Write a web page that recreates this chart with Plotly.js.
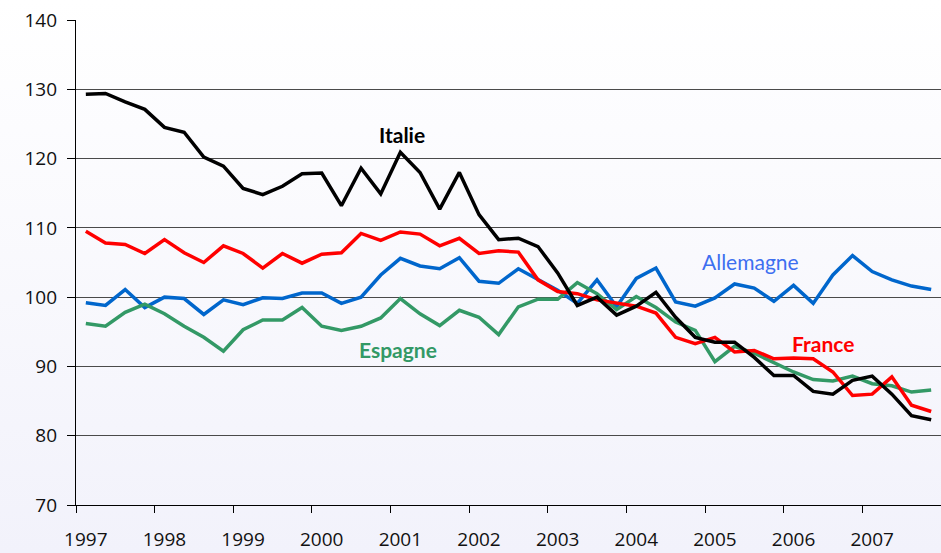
<!DOCTYPE html>
<html>
<head>
<meta charset="utf-8">
<script src="https://cdn.plot.ly/plotly-3.0.1.min.js"></script>
<style>html,body{margin:0;padding:0;background:#fff;}#chart{width:941px;height:553px;}</style>
</head>
<body>
<div id="chart"></div>
<script>
// Quarterly data 1997Q1 .. 2007Q4 (44 quarters)
const years = ['1997','1998','1999','2000','2001','2002','2003','2004','2005','2006','2007'];
const italie = [129.3,129.4,128.2,127.1,124.5,123.8,120.2,118.9,115.7,114.8,116.0,117.8,
  117.9,113.2,118.6,114.9,120.9,118.0,112.7,118.0,111.9,108.3,108.5,107.3,
  103.5,98.8,100.0,97.4,98.7,100.7,97.1,94.2,93.5,93.5,91.3,88.7,
  88.7,86.4,86.0,88.0,88.6,86.0,82.9,82.3];
const france = [109.5,107.8,107.6,106.3,108.3,106.4,105.0,107.4,106.3,104.2,106.3,104.9,
  106.2,106.4,109.2,108.2,109.4,109.1,107.4,108.5,106.3,106.7,106.5,102.5,
  100.8,100.5,99.6,99.2,98.7,97.7,94.2,93.3,94.2,92.1,92.3,91.1,
  91.2,91.1,89.2,85.8,86.0,88.5,84.4,83.5];
const allemagne = [99.2,98.8,101.1,98.5,100.0,99.8,97.5,99.6,98.9,99.9,99.8,100.6,
  100.6,99.1,100.0,103.2,105.6,104.5,104.1,105.7,102.3,102.0,104.1,102.5,
  101.0,99.1,102.5,98.6,102.7,104.2,99.3,98.7,99.9,101.9,101.3,99.4,
  101.7,99.1,103.2,106.0,103.7,102.5,101.6,101.1];
const espagne = [96.2,95.8,97.8,99.0,97.6,95.8,94.2,92.2,95.3,96.7,96.7,98.5,
  95.8,95.2,95.8,97.0,99.8,97.6,95.9,98.1,97.1,94.6,98.6,99.7,
  99.7,102.1,100.5,98.2,100.1,98.5,96.4,95.2,90.7,92.9,91.9,90.5,
  89.2,88.1,87.9,88.6,87.5,87.2,86.3,86.6];
const seriesNames = ['Italie','France','Allemagne','Espagne'];
const colors = {Italie:'#000000', France:'#ff0000', Allemagne:'#0066cc', Espagne:'#339966'};
const labelColors = {Italie:'#000000', France:'#ff0000', Allemagne:'#3d6ff0', Espagne:'#339966'};

const idx = italie.map((_, i) => i);
const labelTickVals = years.map((_, k) => k * 4);
const boundaryTickVals = years.map((_, k) => k * 4 - 0.5);

const dataMap = {Italie: italie, France: france, Allemagne: allemagne, Espagne: espagne};
const order = ['Allemagne','Espagne','France','Italie'];
const traces = order.map(n => ({
  x: idx, y: dataMap[n], type: 'scatter', mode: 'lines', name: n,
  line: {color: colors[n], width: 3.5}, xaxis: 'x', yaxis: 'y', hoverinfo: 'skip'
}));

const tickFont = {family: 'Open Sans, DejaVu Sans, sans-serif', size: 19, color: '#111'};
const labFont = (n, w) => ({family: 'Lato, Open Sans, sans-serif', size: 21, color: labelColors[n], weight: w});

const grad = 'data:image/svg+xml;utf8,' + encodeURIComponent(
  '<svg xmlns="http://www.w3.org/2000/svg" width="10" height="100" preserveAspectRatio="none">' +
  '<defs><linearGradient id="g" x1="0" y1="0" x2="0" y2="1">' +
  '<stop offset="0" stop-color="#ffffff"/><stop offset="1" stop-color="#f2f2fb"/></linearGradient></defs>' +
  '<rect width="10" height="100" fill="url(#g)"/></svg>');

const layout = {
  width: 941, height: 553,
  margin: {l: 76, r: 0, t: 20, b: 48},
  paper_bgcolor: '#ffffff', plot_bgcolor: 'rgba(0,0,0,0)',
  showlegend: false,
  images: [{source: grad, xref: 'paper', yref: 'paper', x: -76/865, y: 1 + 20/485,
    sizex: 941/865, sizey: 553/485, sizing: 'stretch', xanchor: 'left', yanchor: 'top', layer: 'below'}],
  xaxis: {
    range: [-0.5, 43.5], tickvals: boundaryTickVals, ticktext: boundaryTickVals.map(() => ''),
    ticks: 'outside', ticklen: 7, tickcolor: '#000', tickwidth: 1,
    showgrid: false, zeroline: false, showline: true, linecolor: '#000', linewidth: 1.2,
    fixedrange: true
  },
  xaxis2: {
    overlaying: 'x', anchor: 'y', side: 'bottom', matches: 'x',
    range: [-0.5, 43.5], tickvals: labelTickVals, ticktext: years,
    ticks: 'outside', ticklen: 17, tickcolor: 'rgba(0,0,0,0)',
    showgrid: false, zeroline: false, showline: false, tickfont: tickFont
  },
  yaxis: {
    range: [70, 140], tickvals: [70,80,90,100,110,120,130,140],
    ticks: 'outside', ticklen: 8, tickcolor: '#000', tickwidth: 1,
    showgrid: true, gridcolor: '#4a4a4a', gridwidth: 1,
    zeroline: false, showline: true, linecolor: '#000', linewidth: 1.2,
    tickfont: tickFont, ticklabelstandoff: 6
  },
  annotations: [
    {text: 'Italie', x: 16.1, y: 123.5, xref: 'x', yref: 'y', showarrow: false, font: labFont('Italie', 700)},
    {text: 'Allemagne', x: 33.8, y: 105.2, xref: 'x', yref: 'y', showarrow: false, font: labFont('Allemagne', 400)},
    {text: 'France', x: 37.5, y: 93.25, xref: 'x', yref: 'y', showarrow: false, font: labFont('France', 700)},
    {text: 'Espagne', x: 15.9, y: 92.4, xref: 'x', yref: 'y', showarrow: false, font: labFont('Espagne', 700)}
  ]
};

// dummy trace on xaxis2 so its labels render
traces.push({x: [0], y: [null], type: 'scatter', mode: 'lines', xaxis: 'x2', yaxis: 'y', hoverinfo: 'skip', showlegend: false});

Plotly.newPlot('chart', traces, layout, {staticPlot: true, displayModeBar: false});
</script>
</body>
</html>
